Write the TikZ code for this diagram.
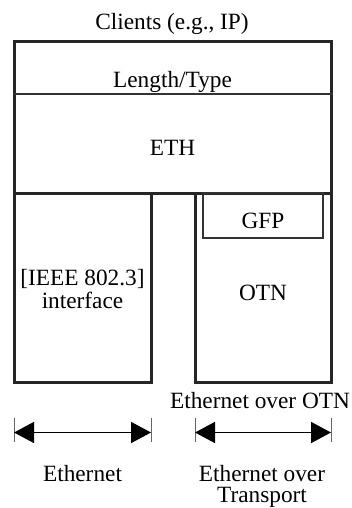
\documentclass[tikz,border=0pt]{standalone}
\usepackage{fontspec}
\setmainfont{Liberation Serif}
\usetikzlibrary{arrows.meta}
\begin{document}
\begin{tikzpicture}[x=1pt,y=-1pt,
  lbl/.style={font=\fontsize{23.3}{23}\selectfont, inner sep=0pt, anchor=base},
  thickbox/.style={draw=black!85, line width=3pt, inner sep=0pt},
  thinbox/.style={draw=black!80, line width=1.5pt, inner sep=0pt},
  dimarrow/.style={line width=1.5pt, {Triangle[length=20pt,width=21pt]}-{Triangle[length=20pt,width=21pt]}},
  tick/.style={draw=black!60, line width=1pt}]
\useasboundingbox (0,0) rectangle (352,508);
\fill[white] (0,0) rectangle (352,508);
% boxes
\node[thickbox, minimum width=317pt, minimum height=151pt] (eth) at (172.5,117.5) {};
\draw[thinbox] (eth.west |- 0,94) -- (eth.east |- 0,94);
\node[thickbox, minimum width=137pt, minimum height=189pt] (ieee) at (82.5,287.5) {};
\node[thickbox, minimum width=136pt, minimum height=189pt] (otn) at (263,287.5) {};
\node[thinbox, minimum width=120pt, minimum height=45pt] (gfp) at (263,215.5) {};
% texts
\node[lbl] (clients) at (172,30) {Clients (e.g., IP)};
\node[lbl] (lt) at (172.5,87.5) {Length/Type};
\node[lbl] (ethl) at (172.5,155) {ETH};
\node[lbl] (gfpl) at (263,228) {GFP};
\node[lbl] (ieeel) at (82.5,285) {[IEEE 802.3]};
\node[lbl] (ieeel2) at (82.5,308) {interface};
\node[lbl] (otnl) at (263,300.5) {OTN};
\node[lbl] (eoo) at (260,408) {Ethernet over OTN};
\node[lbl] (ethn) at (82.5,481) {Ethernet};
\node[lbl] (eot) at (262,481) {Ethernet over};
\node[lbl] (eot2) at (262,502) {Transport};
% dimension arrows
\coordinate (a1) at (14,432.5);
\coordinate (a2) at (151,432.5);
\coordinate (b1) at (195,432.5);
\coordinate (b2) at (331,432.5);
\draw[tick] (14,418) -- (14,442);
\draw[tick] (151,418) -- (151,442);
\draw[tick] (195,418) -- (195,442);
\draw[tick] (331,418) -- (331,442);
\draw[dimarrow] (a1) -- (a2);
\draw[dimarrow] (b1) -- (b2);
\end{tikzpicture}
\end{document}
